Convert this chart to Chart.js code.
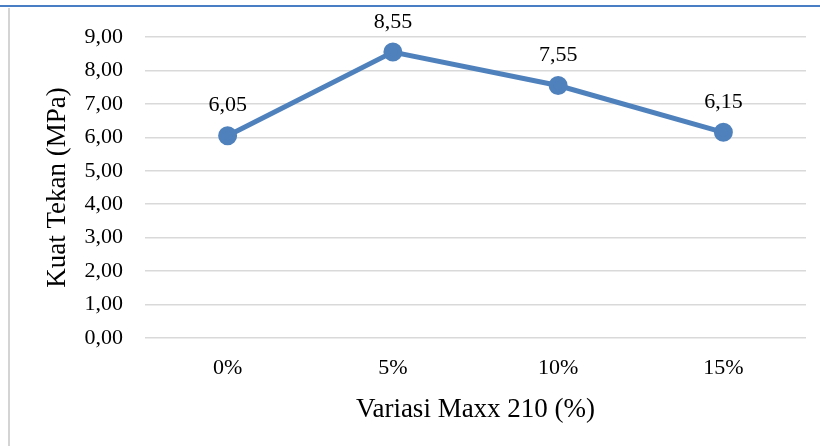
<!DOCTYPE html>
<html>
<head>
<meta charset="utf-8">
<script src="https://cdn.jsdelivr.net/npm/chart.js@4/dist/chart.umd.min.js"></script>
<style>
    body { margin: 0; background: #fff; }
    #wrap { position: relative; width: 820px; height: 446px; }
    #topLine { position: absolute; left: 0; top: 5px; width: 820px; height: 2px; background: #4a7ec4; }
    #leftLine { position: absolute; left: 8px; top: 8px; width: 2px; height: 438px; background: #d4d4d4; }
    canvas { position: absolute; left: 0; top: 0; }
</style>
</head>
<body>
<div id="wrap">
    <canvas id="chart" width="820" height="446"></canvas>
    <div id="topLine"></div>
    <div id="leftLine"></div>
</div>
<script>
const categories = ['0%', '5%', '10%', '15%'];
const kuatTekan = [6.05, 8.55, 7.55, 6.15];
const yTicks = [0, 1, 2, 3, 4, 5, 6, 7, 8, 9];

const fmt = v => v.toFixed(2).replace('.', ',');

// draws the value above each point
const pointLabels = {
    id: 'pointLabels',
    afterDatasetsDraw(chart) {
        const ctx = chart.ctx;
        const meta = chart.getDatasetMeta(0);
        ctx.save();
        ctx.font = '22px "Liberation Serif"';
        ctx.fillStyle = '#000';
        ctx.textAlign = 'center';
        ctx.textBaseline = 'middle';
        meta.data.forEach((pt, i) => {
            ctx.fillText(fmt(kuatTekan[i]), pt.x, pt.y - 30);
        });
        ctx.restore();
    }
};

document.addEventListener('DOMContentLoaded', function() {
    const ctx = document.getElementById('chart').getContext('2d');
    new Chart(ctx, {
        type: 'line',
        data: {
            labels: categories,
            datasets: [{
                data: kuatTekan,
                borderColor: '#4f81bd',
                backgroundColor: '#4f81bd',
                borderWidth: 5,
                pointRadius: 7,
                pointHoverRadius: 7,
                tension: 0
            }]
        },
        options: {
            responsive: false,
            animation: false,
            layout: { padding: { top: 37, right: 14, left: 0, bottom: 0 } },
            plugins: {
                legend: { display: false },
                tooltip: { enabled: false }
            },
            scales: {
                x: {
                    offset: true,
                    grid: { display: false },
                    border: { display: false },
                    ticks: { color: '#000', padding: 9, font: { family: 'Liberation Serif', size: 22 } },
                    title: {
                        display: true,
                        text: 'Variasi Maxx 210 (%)',
                        color: '#000',
                        font: { family: 'Liberation Serif', size: 27 },
                        padding: { top: 0, bottom: 20 }
                    },
                    afterFit: s => { s.height = 108; }
                },
                y: {
                    min: 0,
                    max: 9,
                    afterBuildTicks: s => { s.ticks = yTicks.map(v => ({ value: v })); },
                    grid: { color: '#d9d9d9', lineWidth: 1.5, drawTicks: false },
                    border: { display: false },
                    ticks: {
                        color: '#000',
                        padding: 22,
                        font: { family: 'Liberation Serif', size: 22 },
                        callback: v => fmt(v)
                    },
                    title: {
                        display: true,
                        text: 'Kuat Tekan (MPa)',
                        color: '#000',
                        font: { family: 'Liberation Serif', size: 27 },
                        padding: { top: 42, bottom: 0 }
                    },
                    afterFit: s => { s.width = 145; }
                }
            }
        },
        plugins: [pointLabels]
    });
});
</script>
</body>
</html>
